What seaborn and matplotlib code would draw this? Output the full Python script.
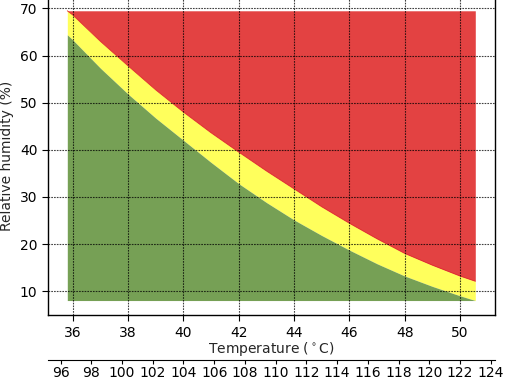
import numpy as np
import pandas as pd
import seaborn as sns
import matplotlib
matplotlib.use("Agg")
import matplotlib.pyplot as plt

# heat stress zones
temps = [35.8, 36, 37, 38, 39, 40, 41, 42, 43, 44, 45, 46, 47, 48, 49, 50, 50.55]
danger_edge = [69.5, 68.6, 63.0, 57.8, 52.7, 48.0, 43.6, 39.5, 35.5, 31.7, 27.9, 24.4, 21.1, 18.0, 15.5, 13.2, 12.1]
caution_edge = [64.4, 63.3, 57.3, 51.8, 46.7, 42.0, 37.3, 32.8, 28.8, 25.1, 21.8, 18.7, 15.8, 13.2, 11.0, 9.0, 8.0]
rh_top = 69.5
rh_bottom = 8.0

f_ticks = list(range(96, 125, 2))

df = pd.DataFrame({"temp": temps, "danger": danger_edge, "caution": caution_edge})

sns.set_style("ticks")
plt.rcParams["font.family"] = ["DejaVu Sans"]

fig = plt.figure(figsize=(5.1, 3.82), dpi=100)
ax = fig.add_axes([0.094, 0.175, 0.877, 0.835])

ax.fill_between(df["temp"], df["danger"], rh_top, color="#e34242", lw=0, zorder=1)
ax.fill_between(df["temp"], df["caution"], df["danger"], color="#ffff5c", lw=0, zorder=1)
ax.fill_between(df["temp"], rh_bottom, df["caution"], color="#76a055", lw=0, zorder=1)
sns.lineplot(data=df, x="temp", y="danger", color="#e02828", lw=0.6, ax=ax, zorder=2)

ax.set_xlim(35.1, 51.27)
ax.set_ylim(4.9, 72.6)
ax.set_xticks(range(36, 51, 2))
ax.set_yticks(range(10, 71, 10))
ax.grid(True, color="black", linestyle=(0, (1.5, 1)), linewidth=0.8, alpha=0.75)
ax.set_axisbelow(False)
for s in ax.spines.values():
    s.set_color("black")
    s.set_linewidth(1.0)
ax.tick_params(colors="black", labelsize=10, length=4)

ax.set_xlabel("Temperature ($^\\circ$C)", fontsize=10, labelpad=0)
ax.set_ylabel("Relative humidity (%)", fontsize=10)

sec = ax.secondary_xaxis(-0.14, functions=(lambda c: c * 9 / 5 + 32, lambda f: (f - 32) * 5 / 9))
sec.set_xticks(f_ticks)
sec.tick_params(labelsize=10, length=3, pad=1.5, colors="black")
sec.spines["bottom"].set_color("black")

fig.savefig("out.png", dpi=100)
